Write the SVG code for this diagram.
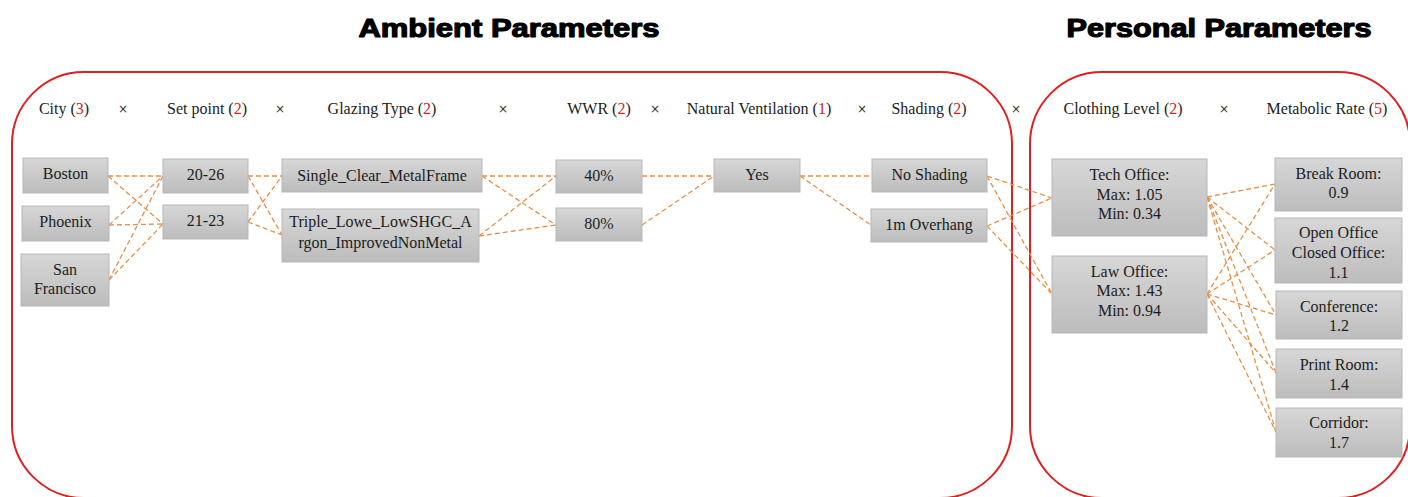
<svg xmlns="http://www.w3.org/2000/svg" width="1408" height="497" viewBox="0 0 1408 497">
  <defs>
    <linearGradient id="boxFill" x1="0" y1="0" x2="0" y2="1">
      <stop offset="0" stop-color="#d7d7d7"/>
      <stop offset="1" stop-color="#bcbcbc"/>
    </linearGradient>
    <style>
      .title { font-family: "Liberation Sans", Arial, sans-serif; font-weight: 900; font-size: 26px; fill: #000; stroke: #000; stroke-width: 1.2; stroke-linejoin: round; text-anchor: middle; }
      .head { font-family: "Liberation Serif", "Times New Roman", serif; font-size: 16px; fill: #222; text-anchor: middle; }
      .num { fill: #d42424; }
      .times { font-family: "DejaVu Sans", sans-serif; font-size: 12px; fill: #333; text-anchor: middle; }
      .frame { fill: none; stroke: #e02020; stroke-width: 2; }
      .node rect { fill: url(#boxFill); stroke: #b7b7b7; stroke-width: 1; }
      .node text { font-family: "Liberation Serif", "Times New Roman", serif; font-size: 16px; fill: #1c1c1c; text-anchor: middle; }
      .links line { stroke: #e98f45; stroke-width: 1.3; stroke-dasharray: 5 3; fill: none; }
    </style>
  </defs>

  <rect width="1408" height="497" fill="#fff"/>

  <!-- section titles -->
  <text class="title" x="509" y="37" textLength="301" lengthAdjust="spacingAndGlyphs">Ambient Parameters</text>
  <text class="title" x="1219" y="37" textLength="305" lengthAdjust="spacingAndGlyphs">Personal Parameters</text>

  <!-- section frames -->
  <rect class="frame" x="12" y="72" width="1000" height="426" rx="72" ry="72"/>
  <rect class="frame" x="1030" y="72" width="380" height="426" rx="72" ry="72"/>

  <!-- parameter headers -->
  <g id="headers">
    <text class="head" x="64" y="114">City (<tspan class="num">3</tspan>)</text>
    <text class="times" x="123" y="113">×</text>
    <text class="head" x="207" y="114">Set point (<tspan class="num">2</tspan>)</text>
    <text class="times" x="280" y="113">×</text>
    <text class="head" x="382" y="114">Glazing Type (<tspan class="num">2</tspan>)</text>
    <text class="times" x="503" y="113">×</text>
    <text class="head" x="599" y="114">WWR (<tspan class="num">2</tspan>)</text>
    <text class="times" x="655" y="113">×</text>
    <text class="head" x="759" y="114">Natural Ventilation (<tspan class="num">1</tspan>)</text>
    <text class="times" x="862" y="113">×</text>
    <text class="head" x="929" y="114">Shading (<tspan class="num">2</tspan>)</text>
    <text class="times" x="1016" y="113">×</text>
    <text class="head" x="1123" y="114">Clothing Level (<tspan class="num">2</tspan>)</text>
    <text class="times" x="1224" y="113">×</text>
    <text class="head" x="1327" y="114">Metabolic Rate (<tspan class="num">5</tspan>)</text>
  </g>

  <!-- connectors -->
  <g id="connectors" class="links">
    <!-- city to set point -->
    <line x1="108" y1="176" x2="163" y2="176"/>
    <line x1="108" y1="176" x2="163" y2="224"/>
    <line x1="109" y1="225" x2="163" y2="176"/>
    <line x1="109" y1="225" x2="163" y2="224"/>
    <line x1="109" y1="280" x2="163" y2="176"/>
    <line x1="109" y1="280" x2="163" y2="224"/>
    <!-- set point to glazing -->
    <line x1="248" y1="176" x2="282" y2="176"/>
    <line x1="248" y1="176" x2="282" y2="235"/>
    <line x1="248" y1="222" x2="282" y2="176"/>
    <line x1="248" y1="222" x2="282" y2="235"/>
    <!-- glazing to WWR -->
    <line x1="482" y1="176" x2="556" y2="176"/>
    <line x1="482" y1="176" x2="556" y2="225"/>
    <line x1="479" y1="236" x2="556" y2="176"/>
    <line x1="479" y1="236" x2="556" y2="225"/>
    <!-- WWR to ventilation -->
    <line x1="642" y1="176" x2="714" y2="176"/>
    <line x1="642" y1="225" x2="714" y2="176"/>
    <!-- ventilation to shading -->
    <line x1="800" y1="176" x2="872" y2="176"/>
    <line x1="800" y1="176" x2="871" y2="225"/>
    <!-- shading to clothing -->
    <line x1="987" y1="176" x2="1052" y2="198"/>
    <line x1="987" y1="176" x2="1052" y2="294"/>
    <line x1="987" y1="226" x2="1052" y2="198"/>
    <line x1="987" y1="226" x2="1052" y2="294"/>
    <!-- clothing to metabolic rate -->
    <line x1="1207" y1="197" x2="1275" y2="184"/>
    <line x1="1207" y1="197" x2="1275" y2="250"/>
    <line x1="1207" y1="197" x2="1276" y2="315"/>
    <line x1="1207" y1="197" x2="1276" y2="373"/>
    <line x1="1207" y1="197" x2="1276" y2="432"/>
    <line x1="1207" y1="294" x2="1275" y2="184"/>
    <line x1="1207" y1="294" x2="1275" y2="250"/>
    <line x1="1207" y1="294" x2="1276" y2="315"/>
    <line x1="1207" y1="294" x2="1276" y2="373"/>
    <line x1="1207" y1="294" x2="1276" y2="432"/>
  </g>

  <!-- city -->
  <g id="city-boston" class="node"><rect x="23" y="158" width="85" height="35"/><text x="65.5" y="179">Boston</text></g>
  <g id="city-phoenix" class="node"><rect x="22" y="206" width="87" height="35"/><text x="65.5" y="227">Phoenix</text></g>
  <g id="city-sanfrancisco" class="node"><rect x="21" y="254" width="88" height="52"/><text x="65" y="275">San</text><text x="65" y="294">Francisco</text></g>

  <!-- set point -->
  <g id="setpoint-20-26" class="node"><rect x="163" y="159" width="85" height="34"/><text x="205.5" y="180">20-26</text></g>
  <g id="setpoint-21-23" class="node"><rect x="163" y="205" width="85" height="34"/><text x="205.5" y="226">21-23</text></g>

  <!-- glazing type -->
  <g id="glazing-single" class="node"><rect x="282" y="159" width="200" height="33"/><text x="382" y="181">Single_Clear_MetalFrame</text></g>
  <g id="glazing-triple" class="node"><rect x="282" y="209" width="197" height="53"/><text x="380.5" y="227">Triple_Lowe_LowSHGC_A</text><text x="380.5" y="248">rgon_ImprovedNonMetal</text></g>

  <!-- WWR -->
  <g id="wwr-40" class="node"><rect x="556" y="160" width="86" height="33"/><text x="599" y="181">40%</text></g>
  <g id="wwr-80" class="node"><rect x="556" y="208" width="86" height="33"/><text x="599" y="229">80%</text></g>

  <!-- natural ventilation -->
  <g id="ventilation-yes" class="node"><rect x="714" y="159" width="86" height="33"/><text x="757" y="180">Yes</text></g>

  <!-- shading -->
  <g id="shading-none" class="node"><rect x="872" y="159" width="115" height="33"/><text x="929.5" y="180">No Shading</text></g>
  <g id="shading-overhang" class="node"><rect x="871" y="209" width="116" height="33"/><text x="929" y="230">1m Overhang</text></g>

  <!-- clothing level -->
  <g id="clothing-tech" class="node"><rect x="1052" y="159" width="155" height="77"/><text x="1129.5" y="180">Tech Office:</text><text x="1129.5" y="200">Max: 1.05</text><text x="1129.5" y="219">Min: 0.34</text></g>
  <g id="clothing-law" class="node"><rect x="1052" y="256" width="155" height="77"/><text x="1129.5" y="277">Law Office:</text><text x="1129.5" y="296">Max: 1.43</text><text x="1129.5" y="316">Min: 0.94</text></g>

  <!-- metabolic rate -->
  <g id="met-break" class="node"><rect x="1275" y="158" width="127" height="53"/><text x="1338.5" y="179">Break Room:</text><text x="1338.5" y="198">0.9</text></g>
  <g id="met-office" class="node"><rect x="1275" y="218" width="127" height="65"/><text x="1338.5" y="238">Open Office</text><text x="1338.5" y="258">Closed Office:</text><text x="1338.5" y="278">1.1</text></g>
  <g id="met-conference" class="node"><rect x="1276" y="291" width="126" height="48"/><text x="1339" y="312">Conference:</text><text x="1339" y="331">1.2</text></g>
  <g id="met-print" class="node"><rect x="1276" y="349" width="126" height="49"/><text x="1339" y="370">Print Room:</text><text x="1339" y="390">1.4</text></g>
  <g id="met-corridor" class="node"><rect x="1276" y="408" width="126" height="49"/><text x="1339" y="428">Corridor:</text><text x="1339" y="448">1.7</text></g>
</svg>
